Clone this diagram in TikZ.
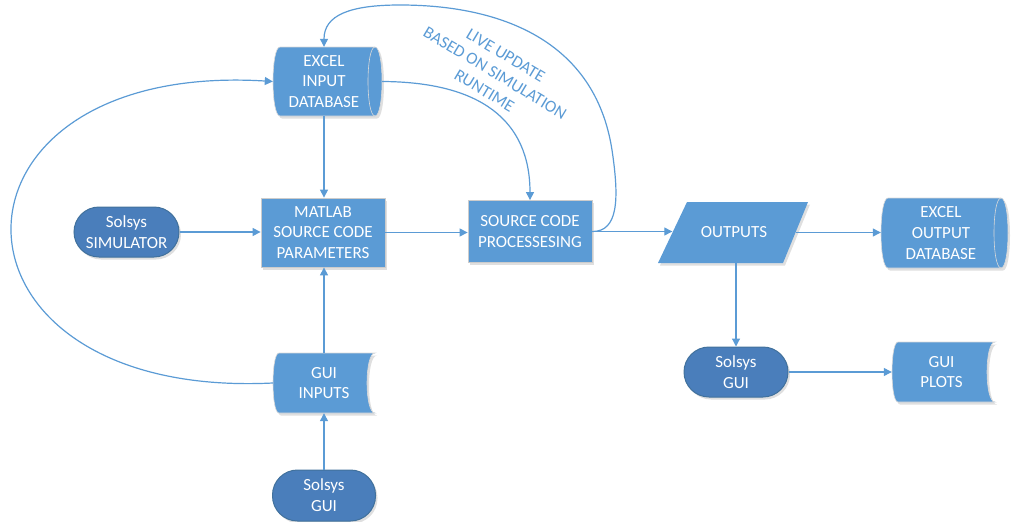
\documentclass[tikz,border=0pt]{standalone}
\usepackage{fontspec}
\setmainfont{Carlito}
\usetikzlibrary{arrows.meta,shadows}
\definecolor{vblue}{HTML}{5B9BD5}
\definecolor{vdark}{HTML}{4A7EBB}
\definecolor{vedge}{HTML}{41719C}

\newcommand{\drawcyl}[4]{%
 \pgfmathsetmacro\qqa{#1+7}%
 \pgfmathsetmacro\qqb{#3-7}%
 \pgfmathsetmacro\qqc{#1-2.33}%
 \pgfmathsetmacro\qqd{#3+2.33}%
 \pgfmathsetmacro\qqe{#3-16.33}%
 \path[boxfill,draw=black!15,line width=0.6pt] (\qqa,#2) -- (\qqb,#2) .. controls (\qqd,#2) and (\qqd,#4) .. (\qqb,#4) -- (\qqa,#4) .. controls (\qqc,#4) and (\qqc,#2) .. (\qqa,#2) -- cycle;
 \draw[black!15,line width=0.6pt] (\qqb,#2) .. controls (\qqe,#2) and (\qqe,#4) .. (\qqb,#4);}

\newcommand{\drawtape}[4]{%
 \pgfmathsetmacro\qqa{#1+6}%
 \pgfmathsetmacro\qqc{#1-2}%
 \pgfmathsetmacro\qqe{#3-10.67}%
 \path[boxfill,draw=black!15,line width=0.6pt] (\qqa,#2) -- (#3,#2) .. controls (\qqe,#2) and (\qqe,#4) .. (#3,#4) -- (\qqa,#4) .. controls (\qqc,#4) and (\qqc,#2) .. (\qqa,#2) -- cycle;}

\begin{document}
\begin{tikzpicture}[x=1pt,y=-1pt,
 dshadow/.style={drop shadow={shadow xshift=2pt,shadow yshift=-2.5pt,opacity=0.25}},
 boxfill/.style={fill=vblue,dshadow},
 txt/.style={text=white,font=\fontsize{17}{20.7}\selectfont,align=center,inner sep=0pt},
 procbox/.style={txt,rectangle,boxfill,draw=black!20,line width=0.8pt},
 term/.style={txt,rectangle,rounded corners=25pt,fill=vdark,draw=vedge,line width=1pt,dshadow},
 anchorbox/.style={txt,rectangle},
 conn/.style={draw=vblue,line width=1.2pt,-{Triangle[length=8pt,width=8pt]}},
 note/.style={text=vblue,font=\fontsize{17}{20.7}\selectfont,align=center,inner sep=0pt}
]
\useasboundingbox (0,0) rectangle (1012,522);

% custom shapes
\drawcyl{273}{47}{382}{116}
\drawcyl{881}{198}{1008}{268}
\drawtape{273}{353}{375}{413}
\drawtape{892}{342}{995}{402}
\path[boxfill] (687,202) -- (808,202) -- (783,263) -- (658,263) -- cycle;

% nodes
\node[anchorbox,minimum width=102pt,minimum height=69pt] (excelin) at (324,81.5) {EXCEL\\INPUT\\DATABASE};
\node[anchorbox,minimum width=120pt,minimum height=70pt] (excelout) at (941,233) {EXCEL\\OUTPUT\\DATABASE};
\node[anchorbox,minimum width=102pt,minimum height=60pt] (guiin) at (324,383) {GUI\\INPUTS};
\node[anchorbox,minimum width=99pt,minimum height=60pt] (plots) at (941.5,372) {GUI\\PLOTS};
\node[anchorbox,minimum width=123pt,minimum height=61pt] (outputs) at (734,232.5) {OUTPUTS};

\node[procbox,minimum width=124pt,minimum height=69pt] (matlab) at (323,232.5) {MATLAB\\SOURCE CODE\\PARAMETERS};
\node[procbox,minimum width=124pt,minimum height=62pt] (proc) at (530,231.5) {SOURCE CODE\\PROCESSESING};

\node[term,minimum width=105pt,minimum height=50pt] (sim) at (126.5,232) {Solsys\\SIMULATOR};
\node[term,minimum width=103pt,minimum height=51pt] (solgui1) at (324,495.5) {Solsys\\GUI};
\node[term,minimum width=104pt,minimum height=50pt] (solgui2) at (736,372) {Solsys\\GUI};

\node[note,rotate=-31] (livenote) at (495,73) {LIVE UPDATE\\BASED ON SIMULATION\\RUNTIME};

% connectors
\draw[conn] (sim.east) -- (sim.east -| matlab.west);
\draw[conn] (excelin.south) -- (excelin.south |- matlab.north);
\draw[conn] (guiin.north) -- (guiin.north |- matlab.south);
\draw[conn] (solgui1.north) -- (solgui1.north |- guiin.south);
\draw[conn] (matlab.east) -- (matlab.east -| proc.west);
\draw[conn] (proc.east) -- (proc.east -| outputs.west);
\draw[conn] (outputs.east) -- (outputs.east -| excelout.west);
\draw[conn] (outputs.south -| solgui2.north) -- (solgui2.north);
\draw[conn] (solgui2.east) -- (solgui2.east -| plots.west);
\draw[conn] (guiin.west) .. controls (-75,400) and (-75,60) .. (excelin.west);
\draw[conn] ([xshift=7pt]excelin.east) .. controls (480,82) and (530,120) .. (proc.north);
\draw[conn] (proc.east) .. controls (618,231.5) and (619.5,200) .. (612,150) .. controls (595,40) and (500,5) .. (400,5) .. controls (350,5) and (324,15) .. (excelin.north);
\end{tikzpicture}
\end{document}
